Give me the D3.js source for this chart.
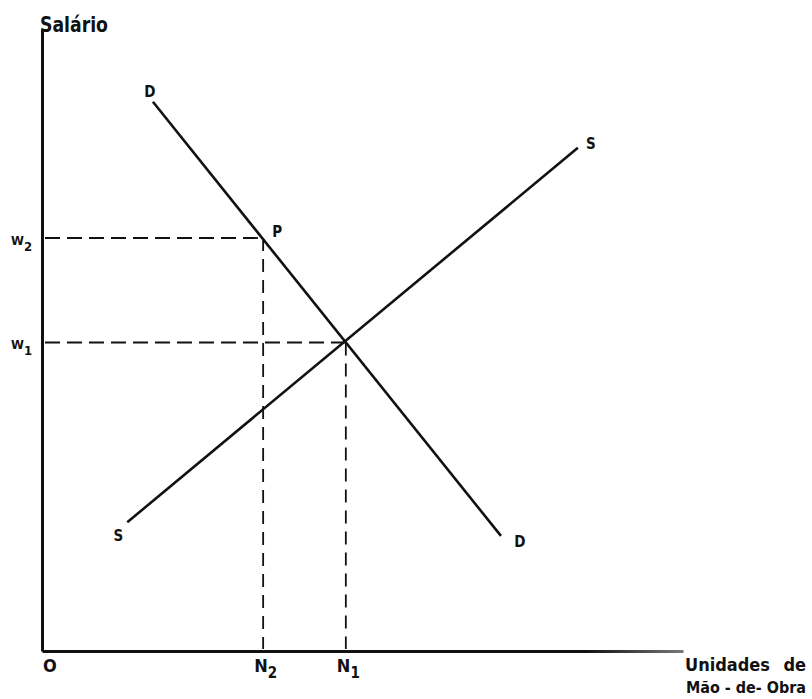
<!DOCTYPE html>
<html>
<head>
<meta charset="utf-8">
<script src="https://cdn.jsdelivr.net/npm/d3@7"></script>
<style>
  body { margin: 0; background: #fff; }
  text { font-family: "Liberation Sans Narrow", "DejaVu Sans Condensed", "Liberation Sans", sans-serif; font-weight: bold; fill: #111; }
</style>
</head>
<body>
<svg id="svgChart"></svg>
<script>
// DATA ////////////////////////////////////////////////////////////////////////

// demand curve D (labour units, wage)
var demandX = [17.3, 71.6];
var demandY = [88.3, 18.5];
// supply curve S
var supplyX = [13.3, 83.6];
var supplyY = [20.7, 80.9];

// reference points: P on demand curve and equilibrium
var pointNames = ["P", "E"];
var pointX = [34.5, 47.4];
var pointY = [66.4, 49.6];

// axis marks
var wageLabels = ["W", "W"];
var wageSubs = ["2", "1"];
var labourLabels = ["N", "N"];
var labourSubs = ["2", "1"];

var WIDTH = 812, HEIGHT = 699;

// SETUP ///////////////////////////////////////////////////////////////////////

var svg = d3.select('#svgChart')
    .attr('width', WIDTH)
    .attr('height', HEIGHT);

var x = d3.scaleLinear().domain([0, 100]).range([42, 683]);
var y = d3.scaleLinear().domain([0, 100]).range([651, 29]);

var demand = demandX.map(function (d, i) { return { x: d, y: demandY[i] }; });
var supply = supplyX.map(function (d, i) { return { x: d, y: supplyY[i] }; });

var line = d3.line()
    .x(function (d) { return x(d.x); })
    .y(function (d) { return y(d.y); });

// fade for the end of the x axis
var grad = svg.append("defs").append("linearGradient")
    .attr("id", "axisFade")
    .attr("gradientUnits", "userSpaceOnUse")
    .attr("x1", x(0)).attr("x2", x(100)).attr("y1", 0).attr("y2", 0);
grad.append("stop").attr("offset", "0.85").attr("stop-color", "#111");
grad.append("stop").attr("offset", "1").attr("stop-color", "#777");

// AXES ////////////////////////////////////////////////////////////////////////

var yAxis = svg.append("g")
    .attr("transform", "translate(" + x(0) + ",0)")
    .call(d3.axisLeft(y).tickValues([]).tickSizeOuter(0));
yAxis.select(".domain").attr("stroke", "#111").attr("stroke-width", 3);

var xAxis = svg.append("g")
    .attr("transform", "translate(0," + y(0) + ")")
    .call(d3.axisBottom(x).tickValues([]).tickSizeOuter(0));
xAxis.select(".domain").attr("stroke", "url(#axisFade)").attr("stroke-width", 3);

// DASHED GUIDES ///////////////////////////////////////////////////////////////

var guides = svg.append("g")
    .attr("stroke", "#111")
    .attr("stroke-width", 1.8)
    .attr("fill", "none");

pointX.forEach(function (px, i) {
    // horizontal to wage axis
    guides.append("line")
        .attr("x1", x(0) + 3).attr("x2", x(px))
        .attr("y1", y(pointY[i])).attr("y2", y(pointY[i]))
        .attr("stroke-dasharray", "15,7");
    // vertical down to labour axis
    guides.append("line")
        .attr("x1", x(px)).attr("x2", x(px))
        .attr("y1", y(pointY[i])).attr("y2", y(0) - 2)
        .attr("stroke-dasharray", "13,8");
});

// CURVES //////////////////////////////////////////////////////////////////////

svg.append("path")
    .datum(demand)
    .attr("d", line)
    .attr("fill", "none")
    .attr("stroke", "#111")
    .attr("stroke-width", 2.6);

svg.append("path")
    .datum(supply)
    .attr("d", line)
    .attr("fill", "none")
    .attr("stroke", "#111")
    .attr("stroke-width", 2.6);

// LABELS //////////////////////////////////////////////////////////////////////

function curveLabel(t, px, py) {
    svg.append("text")
        .attr("x", px).attr("y", py)
        .attr("text-anchor", "middle")
        .style("font-size", "15px")
        .text(t);
}

curveLabel("D", x(demand[0].x) - 3, y(demand[0].y) - 5);
curveLabel("D", x(demand[1].x) + 19, y(demand[1].y) + 11);
curveLabel("S", x(supply[0].x) - 9, y(supply[0].y) + 19);
curveLabel("S", x(supply[1].x) + 13, y(supply[1].y) + 1);

svg.append("text")
    .attr("x", x(pointX[0]) + 9).attr("y", y(pointY[0]) - 1)
    .style("font-size", "15px")
    .text(pointNames[0]);

// wage marks on the y axis
wageLabels.forEach(function (t, i) {
    var lbl = svg.append("text")
        .attr("x", 11).attr("y", y(pointY[i]) + 7)
        .style("font-size", "13px");
    lbl.append("tspan").text(t);
    lbl.append("tspan").attr("dy", 6).style("font-size", "13px").text(wageSubs[i]);
});

// labour marks on the x axis
labourLabels.forEach(function (t, i) {
    var lbl = svg.append("text")
        .attr("x", x(pointX[i]) - 9).attr("y", y(0) + 21)
        .style("font-size", "18px");
    lbl.append("tspan").text(t);
    lbl.append("tspan").attr("dy", 6).style("font-size", "15px").text(labourSubs[i]);
});

svg.append("text")
    .attr("x", x(0) + 1).attr("y", y(0) + 21)
    .style("font-size", "18px")
    .text("O");

// axis titles
svg.append("text")
    .attr("x", 40).attr("y", 32)
    .attr("textLength", 68).attr("lengthAdjust", "spacingAndGlyphs")
    .style("font-size", "21px")
    .text("Salário");

svg.append("text")
    .attr("x", 685).attr("y", 671)
    .style("font-size", "18px")
    .text("Unidades");

svg.append("text")
    .attr("x", 806).attr("y", 671)
    .attr("text-anchor", "end")
    .style("font-size", "18px")
    .text("de");

svg.append("text")
    .attr("x", 686).attr("y", 693)
    .attr("textLength", 120).attr("lengthAdjust", "spacingAndGlyphs")
    .style("font-size", "16px")
    .text("Mão - de- Obra");
</script>
</body>
</html>
